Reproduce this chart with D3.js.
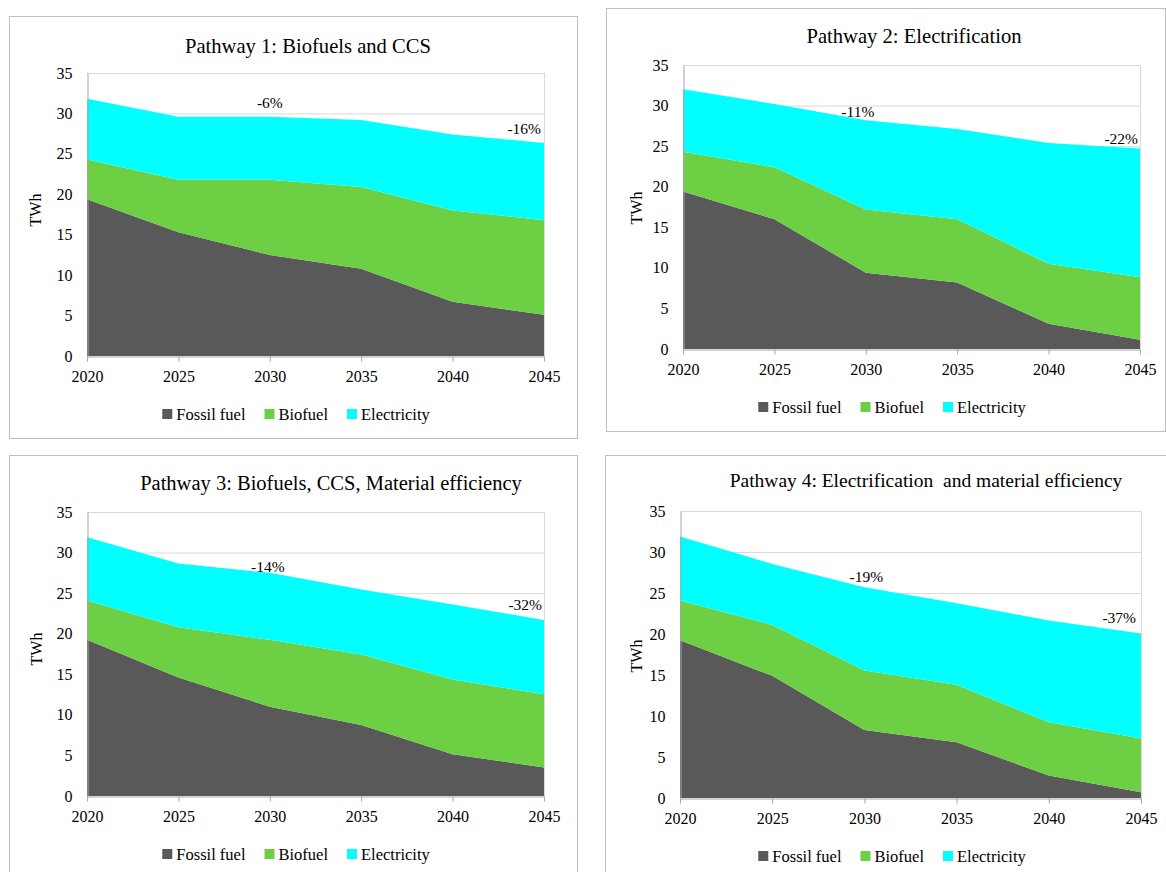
<!DOCTYPE html>
<html>
<head>
<meta charset="utf-8">
<script src="https://cdn.jsdelivr.net/npm/d3@7"></script>
<style>
  body { margin: 0; background: #fff; }
  text { font-family: "Liberation Serif", "DejaVu Serif", serif; fill: #000; }
</style>
</head>
<body>
<script>
"use strict";

// years on the x axis
var years = [2020, 2025, 2030, 2035, 2040, 2045];
var seriesNames = ["Fossil fuel", "Biofuel", "Electricity"];
var seriesColors = ["#595959", "#6dcf43", "#00ffff"];
var yTicks = [0, 5, 10, 15, 20, 25, 30, 35];

var titles = [
	"Pathway 1: Biofuels and CCS",
	"Pathway 2: Electrification",
	"Pathway 3: Biofuels, CCS, Material efficiency",
	"Pathway 4: Electrification  and material efficiency"
];

// TWh per carrier
var p1Fossil = [19.4, 15.3, 12.5, 10.8, 6.7, 5.1];
var p1Biofuel = [4.9, 6.5, 9.3, 10.1, 11.3, 11.7];
var p1Electricity = [7.5, 7.8, 7.8, 8.3, 9.4, 9.55];

var p2Fossil = [19.4, 16.0, 9.4, 8.2, 3.1, 1.15];
var p2Biofuel = [4.9, 6.4, 7.8, 7.8, 7.4, 7.7];
var p2Electricity = [7.7, 7.8, 11.0, 11.1, 14.9, 15.85];

var p3Fossil = [19.25, 14.6, 11.0, 8.75, 5.15, 3.5];
var p3Biofuel = [4.85, 6.2, 8.25, 8.7, 9.2, 9.05];
var p3Electricity = [7.8, 7.85, 8.25, 8.0, 9.25, 9.15];

var p4Fossil = [19.25, 14.9, 8.3, 6.8, 2.75, 0.7];
var p4Biofuel = [4.85, 6.2, 7.25, 7.0, 6.5, 6.55];
var p4Electricity = [7.8, 7.45, 10.15, 9.95, 12.4, 12.8];

// change vs 2020, shown at these years
var labelYears = [2030, 2045];
var p1Labels = ["-6%", "-16%"];
var p2Labels = ["-11%", "-22%"];
var p3Labels = ["-14%", "-32%"];
var p4Labels = ["-19%", "-37%"];

// page layout of the four panels
var panels = [
	{ series: [p1Fossil, p1Biofuel, p1Electricity], labels: p1Labels,
		frame: [9, 16, 568, 422], plot: [87, 544, 73, 356],
		title: [308, 46], titleSize: 20.6, legendX: 296, ylab: [35, 210], labDy: [-9, -9], labDx: [0, -3] },
	{ series: [p2Fossil, p2Biofuel, p2Electricity], labels: p2Labels,
		frame: [606, 8, 559, 423], plot: [683, 1140, 65, 349],
		title: [914, 36], titleSize: 20.6, legendX: 892, ylab: [636, 208], labDy: [-3, -4.5], labDx: [-8, -2] },
	{ series: [p3Fossil, p3Biofuel, p3Electricity], labels: p3Labels,
		frame: [9, 455, 568, 430], plot: [87, 544, 512, 796],
		title: [331, 483], titleSize: 20.5, legendX: 296, ylab: [36, 649], labDy: [-1, -10], labDx: [-2, -2] },
	{ series: [p4Fossil, p4Biofuel, p4Electricity], labels: p4Labels,
		frame: [605, 455, 561, 430], plot: [680, 1141, 511, 798],
		title: [926, 480], titleSize: 19.5, legendX: 892, ylab: [636, 656], labDy: [-5.5, -11], labDx: [2, -5] }
];

var svg = d3.select("body").append("svg")
	.attr("width", 1166)
	.attr("height", 872);

panels.forEach(function (p, idx) {
	var g = svg.append("g");

	g.append("rect")
		.attr("x", p.frame[0] + 0.5).attr("y", p.frame[1] + 0.5)
		.attr("width", p.frame[2]).attr("height", p.frame[3])
		.attr("fill", "#fff")
		.attr("stroke", "#bfbfbf");

	var x = d3.scaleLinear().domain([2020, 2045]).range([p.plot[0], p.plot[1]]);
	var y = d3.scaleLinear().domain([0, 35]).range([p.plot[3], p.plot[2]]);

	// gridlines
	g.append("g").selectAll("line")
		.data(yTicks.slice(1))
		.enter().append("line")
		.attr("x1", p.plot[0]).attr("x2", p.plot[1])
		.attr("y1", function (d) { return y(d) + 0.5; })
		.attr("y2", function (d) { return y(d) + 0.5; })
		.attr("stroke", "#d9d9d9");

	g.append("line")
		.attr("x1", p.plot[1] + 0.5).attr("x2", p.plot[1] + 0.5)
		.attr("y1", p.plot[2]).attr("y2", p.plot[3])
		.attr("stroke", "#d9d9d9");

	var rows = years.map(function (yr, i) {
		var r = { year: yr };
		seriesNames.forEach(function (n, k) { r[n] = p.series[k][i]; });
		return r;
	});

	var stacked = d3.stack().keys(seriesNames)(rows);

	var area = d3.area()
		.x(function (d) { return x(d.data.year); })
		.y0(function (d) { return y(d[0]); })
		.y1(function (d) { return y(d[1]); });

	g.selectAll(".layer")
		.data(stacked)
		.enter().append("path")
		.attr("class", "layer")
		.attr("d", area)
		.attr("fill", function (d, i) { return seriesColors[i]; });

	// axes
	var xAxis = g.append("g")
		.attr("transform", "translate(0," + (p.plot[3] + 0.5) + ")")
		.call(d3.axisBottom(x).tickValues(years).tickFormat(d3.format("d"))
			.tickSize(5).tickSizeOuter(0).tickPadding(9));
	xAxis.select(".domain").attr("stroke", "#a6a6a6");
	xAxis.selectAll(".tick line").attr("stroke", "#a6a6a6");
	xAxis.selectAll("text").style("font-size", "16px").attr("fill", "#000")
		.style("font-family", "Liberation Serif");

	var yAxis = g.append("g")
		.attr("transform", "translate(" + (p.plot[0] + 0.5) + ",0)")
		.call(d3.axisLeft(y).tickValues(yTicks).tickSize(0).tickPadding(15));
	yAxis.select(".domain").attr("stroke", "#a6a6a6");
	yAxis.selectAll("text").style("font-size", "16px").attr("fill", "#000")
		.style("font-family", "Liberation Serif");

	g.append("text")
		.attr("transform", "translate(" + p.ylab[0] + "," + p.ylab[1] + ") rotate(-90)")
		.attr("text-anchor", "middle")
		.attr("dy", "0.35em")
		.style("font-size", "16px")
		.text("TWh");

	g.append("text")
		.attr("x", p.title[0]).attr("y", p.title[1])
		.attr("dy", "0.35em")
		.attr("text-anchor", "middle")
		.style("font-size", p.titleSize + "px")
		.style("white-space", "pre")
		.text(titles[idx]);

	// percentage labels
	labelYears.forEach(function (yr, k) {
		var i = years.indexOf(yr);
		var total = p.series[0][i] + p.series[1][i] + p.series[2][i];
		g.append("text")
			.attr("x", x(yr) + p.labDx[k])
			.attr("y", y(total) + p.labDy[k])
			.attr("text-anchor", k === 0 ? "middle" : "end")
			.style("font-size", "15.5px")
			.text(p.labels[k]);
	});

	// legend
	var legend = g.append("g");
	var cx = 0;
	seriesNames.forEach(function (n, k) {
		var item = legend.append("g").attr("transform", "translate(" + cx + ",0)");
		item.append("rect")
			.attr("x", 0).attr("y", -5)
			.attr("width", 10).attr("height", 10)
			.attr("fill", seriesColors[k]);
		var t = item.append("text")
			.attr("x", 14).attr("dy", "0.35em")
			.style("font-size", "16.5px")
			.text(n);
		cx += 14 + t.node().getComputedTextLength() + 19;
	});
	cx -= 19;
	legend.attr("transform", "translate(" + (p.legendX - cx / 2) + "," + (p.plot[3] + 58) + ")");
});
</script>
</body>
</html>
